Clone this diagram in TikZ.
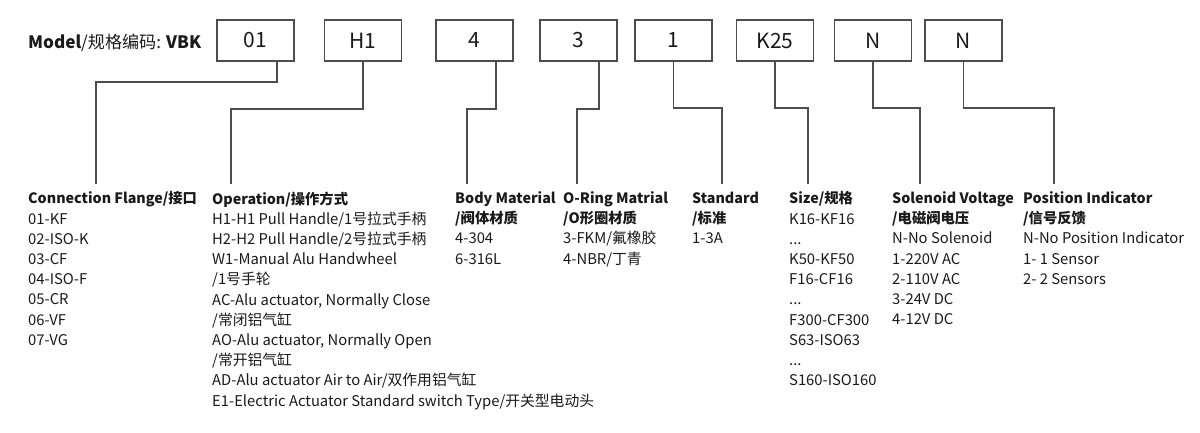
\documentclass[tikz,border=0pt]{standalone}
\usepackage{fontspec}
\setmainfont{Noto Sans CJK SC}
\definecolor{ink}{HTML}{1A1A1A}
\definecolor{wirecol}{HTML}{4D4D4D}
\newcommand{\hd}[1]{{\fontsize{14.3}{20.2}\selectfont\textbf{#1}}}
\begin{document}
\begin{tikzpicture}[x=1pt,y=-1pt,
  codebox/.style={draw=wirecol,line width=1.2pt,minimum width=77pt,minimum height=41pt,inner sep=0pt,font=\fontsize{21}{24}\selectfont,text=ink},
  wire/.style={draw=wirecol,line width=1.2pt},
  column/.style={anchor=north west,align=left,inner xsep=0pt,inner ysep=7.5pt,font=\fontsize{14.8}{20.2}\selectfont,text=ink}]
\useasboundingbox (0,0) rectangle (1200,433);
% model code boxes
\node[anchor=west,inner sep=0pt,text=ink,font=\fontsize{17.1}{20}\selectfont] (model) at (28,43) {\textbf{Model}/规格编码: \textbf{VBK}};
\node[codebox] (b01) at (255.5,40.5) {01};
\node[codebox] (bH1) at (363,40.5) {H1};
\node[codebox] (b4) at (474.5,40.5) {4};
\node[codebox] (b3) at (578.5,40.5) {3};
\node[codebox] (b1) at (673.5,40.5) {1};
\node[codebox] (bK25) at (775,40.5) {K25};
\node[codebox] (bN) at (873,40.5) {N};
\node[codebox] (bP) at (963.5,40.5) {N};
% option columns
\node[column] (cFlange) at (28,184) {\hd{Connection Flange/接口}\\01-KF\\02-ISO-K\\03-CF\\04-ISO-F\\05-CR\\06-VF\\07-VG};
\node[column] (cOper) at (212,184) {\hd{Operation/操作方式}\\H1-H1 Pull Handle/1号拉式手柄\\H2-H2 Pull Handle/2号拉式手柄\\W1-Manual Alu Handwheel\\/1号手轮\\AC-Alu actuator, Normally Close\\/常闭铝气缸\\AO-Alu actuator, Normally Open\\/常开铝气缸\\AD-Alu actuator Air to Air/双作用铝气缸\\E1-Electric Actuator Standard switch Type/开关型电动头};
\node[column] (cBody) at (455,184) {\hd{Body Material}\\\hd{/阀体材质}\\4-304\\6-316L};
\node[column] (cRing) at (563,184) {\hd{O-Ring Matrial}\\\hd{/O形圈材质}\\3-FKM/氟橡胶\\4-NBR/丁青};
\node[column] (cStd) at (692,184) {\hd{Standard}\\\hd{/标准}\\1-3A};
\node[column] (cSize) at (789,184) {\hd{Size/规格}\\K16-KF16\\...\\K50-KF50\\F16-CF16\\...\\F300-CF300\\S63-ISO63\\...\\S160-ISO160};
\node[column] (cSol) at (892,184) {\hd{Solenoid Voltage}\\\hd{/电磁阀电压}\\N-No Solenoid\\1-220V AC\\2-110V AC\\3-24V DC\\4-12V DC};
\node[column] (cPos) at (1023,184) {\hd{Position Indicator}\\\hd{/信号反馈}\\N-No Position Indicator\\1- 1 Sensor\\2- 2 Sensors};
% leaders
\coordinate (k01) at (96,82);
\coordinate (kH1) at (231,109);
\coordinate (k4) at (467,109);
\coordinate (k3) at (577,109);
\coordinate (k1) at (722,108);
\coordinate (kK25) at (808,108);
\coordinate (kN) at (920,108);
\coordinate (kP) at (1054,108);
\draw[wire] ([xshift=21.5pt]b01.south) |- (k01) -- (k01 |- cFlange.north);
\draw[wire] (bH1.south) |- (kH1) -- (kH1 |- cOper.north);
\draw[wire] ([xshift=21.5pt]b4.south) |- (k4) -- (k4 |- cBody.north);
\draw[wire] ([xshift=20.5pt]b3.south) |- (k3) -- (k3 |- cRing.north);
\draw[wire] (b1.south) |- (k1) -- (k1 |- cStd.north);
\draw[wire] (bK25.south) |- (kK25) -- (kK25 |- cSize.north);
\draw[wire] (bN.south) |- (kN) -- (kN |- cSol.north);
\draw[wire] (bP.south) |- (kP) -- (kP |- cPos.north);
\end{tikzpicture}
\end{document}
